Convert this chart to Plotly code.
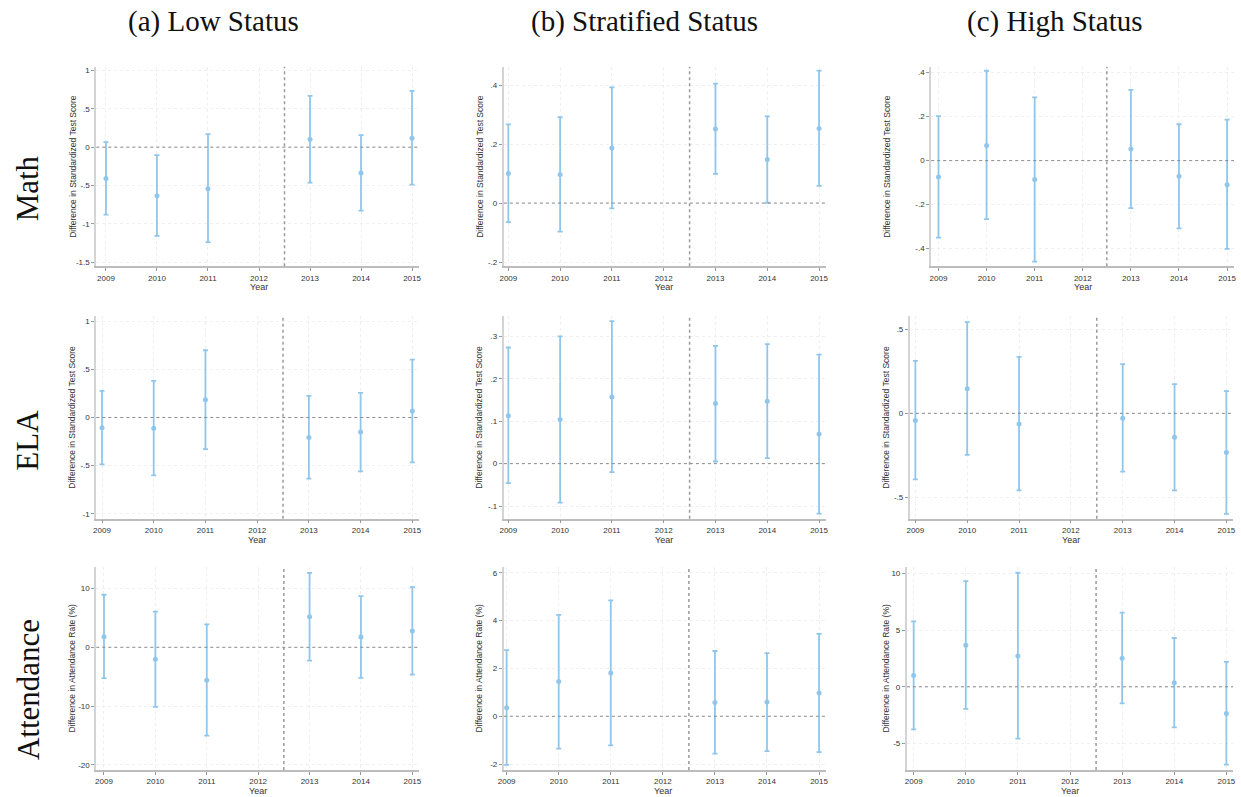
import plotly.graph_objects as go

W, H = 1241, 797

years = [2009, 2010, 2011, 2013, 2014, 2015]

# ---- data: point estimates, upper and lower CI bounds ----
math_low_est = [-0.408, -0.634, -0.543, 0.104, -0.339, 0.117]
math_low_hi = [0.065, -0.104, 0.169, 0.668, 0.156, 0.733]
math_low_lo = [-0.881, -1.159, -1.241, -0.464, -0.829, -0.490]

math_strat_est = [0.100, 0.097, 0.187, 0.251, 0.148, 0.253]
math_strat_hi = [0.267, 0.291, 0.392, 0.405, 0.294, 0.449]
math_strat_lo = [-0.065, -0.097, -0.018, 0.099, 0.001, 0.058]

math_high_est = [-0.074, 0.069, -0.086, 0.053, -0.071, -0.110]
math_high_hi = [0.202, 0.408, 0.287, 0.321, 0.165, 0.186]
math_high_lo = [-0.350, -0.266, -0.459, -0.216, -0.308, -0.401]

ela_low_est = [-0.107, -0.111, 0.183, -0.207, -0.152, 0.066]
ela_low_hi = [0.276, 0.380, 0.698, 0.225, 0.256, 0.601]
ela_low_lo = [-0.487, -0.601, -0.328, -0.636, -0.560, -0.466]

ela_strat_est = [0.113, 0.104, 0.157, 0.142, 0.147, 0.070]
ela_strat_hi = [0.274, 0.300, 0.336, 0.278, 0.282, 0.257]
ela_strat_lo = [-0.046, -0.092, -0.020, 0.005, 0.013, -0.118]

ela_high_est = [-0.043, 0.146, -0.063, -0.030, -0.142, -0.233]
ela_high_hi = [0.312, 0.542, 0.335, 0.292, 0.174, 0.132]
ela_high_lo = [-0.393, -0.247, -0.458, -0.347, -0.458, -0.598]

att_low_est = [1.81, -2.04, -5.60, 5.21, 1.75, 2.77]
att_low_hi = [8.94, 6.06, 3.90, 12.68, 8.72, 10.24]
att_low_lo = [-5.26, -10.13, -15.05, -2.26, -5.21, -4.64]

att_strat_est = [0.36, 1.45, 1.81, 0.58, 0.60, 0.97]
att_strat_hi = [2.77, 4.24, 4.85, 2.73, 2.64, 3.45]
att_strat_lo = [-2.03, -1.35, -1.22, -1.56, -1.46, -1.50]

att_high_est = [1.00, 3.67, 2.73, 2.52, 0.35, -2.35]
att_high_hi = [5.78, 9.33, 10.07, 6.55, 4.31, 2.20]
att_high_lo = [-3.76, -1.94, -4.58, -1.47, -3.58, -6.87]

# ---- tick labels ----
x_ticks = [2009, 2010, 2011, 2012, 2013, 2014, 2015]
yt_math_low = [-1.5, -1, -0.5, 0, 0.5, 1]
yt_math_strat = [-0.2, 0, 0.2, 0.4]
yt_math_high = [-0.4, -0.2, 0, 0.2, 0.4]
yt_ela_low = [-1, -0.5, 0, 0.5, 1]
yt_ela_strat = [-0.1, 0, 0.1, 0.2, 0.3]
yt_ela_high = [-0.5, 0, 0.5]
yt_att_low = [-20, -10, 0, 10]
yt_att_strat = [-2, 0, 2, 4, 6]
yt_att_high = [-5, 0, 5, 10]

col_titles = ["(a) Low Status", "(b) Stratified Status", "(c) High Status"]
row_titles = ["Math", "ELA", "Attendance"]
ytitle_score = "Difference in Standardized Test Score"
ytitle_att = "Difference in Attendance Rate (%)"
xtitle = "Year"
event_line = 2012.5

series = [
    [(math_low_est, math_low_hi, math_low_lo, yt_math_low),
     (math_strat_est, math_strat_hi, math_strat_lo, yt_math_strat),
     (math_high_est, math_high_hi, math_high_lo, yt_math_high)],
    [(ela_low_est, ela_low_hi, ela_low_lo, yt_ela_low),
     (ela_strat_est, ela_strat_hi, ela_strat_lo, yt_ela_strat),
     (ela_high_est, ela_high_hi, ela_high_lo, yt_ela_high)],
    [(att_low_est, att_low_hi, att_low_lo, yt_att_low),
     (att_strat_est, att_strat_hi, att_strat_lo, yt_att_strat),
     (att_high_est, att_high_hi, att_high_lo, yt_att_high)],
]

# ---- layout geometry (pixels) ----
xgeo = [
    [(91, 100.7, 409, 416), (501.5, 506, 819, 826), (932, 939.3, 1230, 1237)],
    [(91, 96.7, 409.3, 416), (501.5, 506, 819, 826), (910.5, 916, 1229.3, 1236)],
    [(91, 98.7, 409.3, 416), (501.5, 504.3, 819, 826), (907.5, 914.3, 1229.3, 1236)],
]
ygeo_rows = [(66, 266), (316, 519), (567, 771)]
ycal = [
    [(1, 69.7, -1.5, 261.7), (0.4, 84.3, -0.2, 261.7), (0.4, 71.7, -0.4, 248.3)],
    [(1, 321, -1, 514), (0.3, 336.3, -0.1, 506.3), (0.5, 329, -0.5, 497.7)],
    [(10, 589, -20, 765.7), (6, 573.3, -2, 765), (10, 574, -5, 744.3)],
]
ytitle_x = [66.7, 476.7, 886.7]
col_title_x = [209.5, 643, 1057]

COLOR = "rgb(145,198,235)"
TICKFONT = dict(family="Liberation Sans, Arial", size=8, color="#333333")
GRID = "#efefef"


def fmt(v):
    if float(v).is_integer():
        return str(int(v))
    s = ("%g" % v)
    return s.replace("0.", ".")


fig = go.Figure()
annotations = []
shapes = []

for r in range(3):
    T, B = ygeo_rows[r]
    for c in range(3):
        k = r * 3 + c + 1
        xs = "" if k == 1 else str(k)
        est, hi, lo, yt = series[r][c]
        left, p0, p1, right = xgeo[r][c]
        ppy = (p1 - p0) / 6.0
        xr = [2009 - (p0 - left) / ppy, 2015 + (right - p1) / ppy]
        v1, q1, v2, q2 = ycal[r][c]
        upp = (v1 - v2) / (q2 - q1)
        yr = [v2 - (B - q2) * upp, v1 + (q1 - T) * upp]

        fig.add_trace(go.Scatter(
            x=years, y=est, mode="markers",
            marker=dict(color=COLOR, size=5),
            error_y=dict(type="data", symmetric=False,
                         array=[h - e for h, e in zip(hi, est)],
                         arrayminus=[e - l for e, l in zip(est, lo)],
                         color=COLOR, thickness=1.8, width=2.5),
            xaxis="x" + xs, yaxis="y" + xs, showlegend=False,
            cliponaxis=False,
        ))
        fig.layout["xaxis" + xs] = dict(
            domain=[left / W, right / W], range=xr, anchor="y" + xs,
            tickmode="array", tickvals=x_ticks, ticktext=[str(t) for t in x_ticks],
            ticks="outside", ticklen=3, tickcolor="#999", tickfont=TICKFONT,
            showline=True, linecolor="#bdbdbd", linewidth=1.5,
            showgrid=True, gridcolor=GRID, griddash="dot", gridwidth=1,
            zeroline=False, fixedrange=True,
        )
        fig.layout["yaxis" + xs] = dict(
            domain=[1 - B / H, 1 - T / H], range=yr, anchor="x" + xs,
            tickmode="array", tickvals=yt, ticktext=[fmt(v) for v in yt],
            ticks="outside", ticklen=3, tickcolor="#999", tickfont=TICKFONT,
            showline=True, linecolor="#d4d4d4", linewidth=2,
            showgrid=True, gridcolor=GRID, griddash="dot", gridwidth=1,
            zeroline=False, fixedrange=True,
        )
        shapes.append(dict(type="line", xref="x" + xs + " domain", yref="y" + xs,
                           x0=0, x1=1, y0=0, y1=0,
                           line=dict(color="#8a8a8a", width=1, dash="dot")))
        shapes.append(dict(type="line", xref="x" + xs, yref="y" + xs + " domain",
                           x0=event_line, x1=event_line, y0=0, y1=1,
                           line=dict(color="#9a9a9a", width=1.5, dash="dot")))
        annotations.append(dict(
            text=ytitle_att if r == 2 else ytitle_score,
            x=ytitle_x[c] / W, y=1 - (T + B) / 2 / H, xref="paper", yref="paper",
            textangle=-90, showarrow=False, xanchor="center", yanchor="middle",
            font=dict(family="Liberation Sans, Arial", size=8.5, color="#333333")))
        annotations.append(dict(
            text=xtitle, x=((p0 + p1) / 2) / W, y=1 - (B + 21) / H,
            xref="paper", yref="paper", showarrow=False,
            xanchor="center", yanchor="middle",
            font=dict(family="Liberation Sans, Arial", size=9, color="#333333")))

for c in range(3):
    annotations.append(dict(
        text=col_titles[c], x=col_title_x[c] / W, y=1 - 21 / H,
        xref="paper", yref="paper", showarrow=False,
        xanchor="center", yanchor="middle",
        font=dict(family="Liberation Serif, serif", size=29, color="#111111")))

row_y = [188, 440, 690]
for r in range(3):
    annotations.append(dict(
        text=row_titles[r], x=22 / W, y=1 - row_y[r] / H,
        xref="paper", yref="paper", showarrow=False, textangle=-90,
        xanchor="center", yanchor="middle",
        font=dict(family="Liberation Serif, serif", size=31, color="#111111")))

fig.update_layout(
    width=W, height=H, margin=dict(l=0, r=0, t=0, b=0),
    paper_bgcolor="white", plot_bgcolor="white",
    annotations=annotations, shapes=shapes, showlegend=False,
)

fig.write_html("out.html", config={"displayModeBar": False})
